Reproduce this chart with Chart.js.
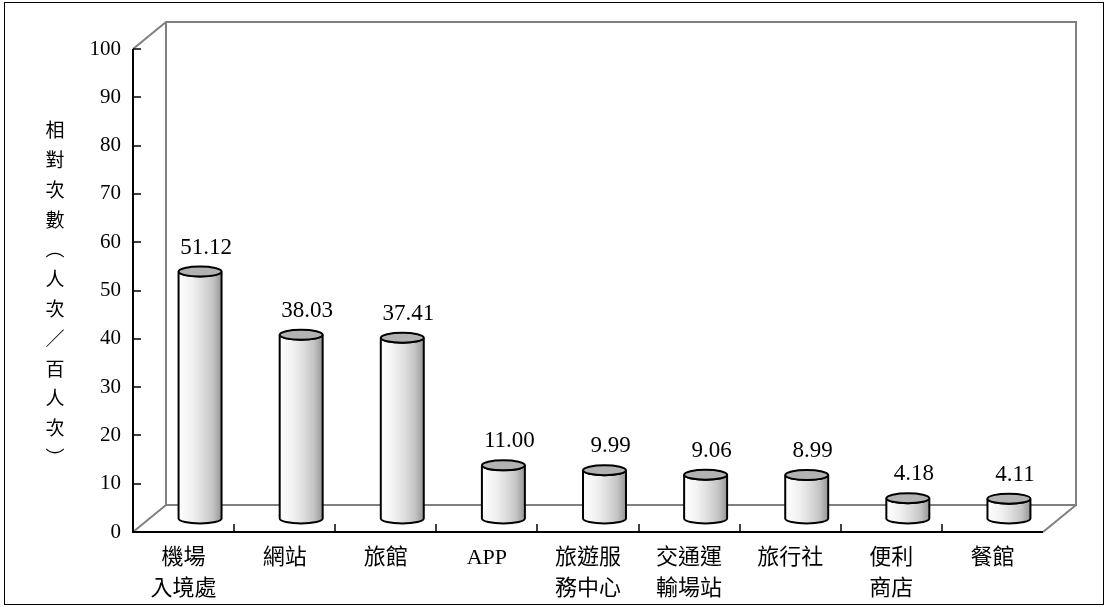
<!DOCTYPE html>
<html>
<head>
<meta charset="utf-8">
<script src="https://cdn.jsdelivr.net/npm/chart.js@4/dist/chart.umd.min.js"></script>
<style>
  html, body { margin: 0; padding: 0; background: #fff; }
  #wrap { width: 1108px; height: 607px; }
</style>
</head>
<body>
<div id="wrap"><canvas id="c" width="1108" height="607"></canvas></div>
<script>
// data
const categories = [
  ['機場', '入境處'], ['網站'], ['旅館'], ['APP'], ['旅遊服', '務中心'],
  ['交通運', '輸場站'], ['旅行社'], ['便利', '商店'], ['餐館'],
];
const values = [51.12, 38.03, 37.41, 11.00, 9.99, 9.06, 8.99, 4.18, 4.11];
const yTitle = ['相', '對', '次', '數', '︵', '人', '次', '／', '百', '人', '次', '︶'];

const serif = '"Liberation Serif", "Noto Sans CJK TC", serif';
const DX = 33, DY = 27; // depth of the 3D box

const box3d = {
  id: 'box3d',
  beforeDatasetsDraw(chart) {
    const { ctx, chartArea: a, scales: { x, y } } = chart;
    ctx.save();
    // outer frame
    ctx.strokeStyle = '#000';
    ctx.lineWidth = 1;
    ctx.strokeRect(4.5, 2.5, 1099, 602);

    // back wall + floor edges
    ctx.strokeStyle = '#808080';
    ctx.lineWidth = 2;
    ctx.beginPath();
    ctx.moveTo(a.left, a.top); ctx.lineTo(a.left + DX, a.top - DY);
    ctx.lineTo(a.right + DX, a.top - DY);
    ctx.lineTo(a.right + DX, a.bottom - DY);
    ctx.lineTo(a.left + DX, a.bottom - DY);
    ctx.lineTo(a.left + DX, a.top - DY);
    ctx.moveTo(a.left + DX, a.bottom - DY); ctx.lineTo(a.left, a.bottom);
    ctx.moveTo(a.right + DX, a.bottom - DY); ctx.lineTo(a.right, a.bottom);
    ctx.stroke();

    // front axes
    ctx.strokeStyle = '#000';
    ctx.beginPath();
    ctx.moveTo(a.left, a.top); ctx.lineTo(a.left, a.bottom); ctx.lineTo(a.right, a.bottom);
    ctx.stroke();
    ctx.lineWidth = 1.5;
    ctx.beginPath();
    y.ticks.forEach(t => {
      const py = Math.round(y.getPixelForValue(t.value));
      ctx.moveTo(a.left, py); ctx.lineTo(a.left + 8, py);
    });
    for (let i = 1; i < categories.length; i++) {
      const px = Math.round((x.getPixelForValue(i - 1) + x.getPixelForValue(i)) / 2);
      ctx.moveTo(px, a.bottom); ctx.lineTo(px, a.bottom - 8);
    }
    ctx.stroke();

    // vertical axis title
    ctx.fillStyle = '#000';
    ctx.font = '19px "Noto Sans CJK TC"';
    ctx.textAlign = 'center';
    ctx.textBaseline = 'middle';
    yTitle.forEach((ch, i) => ctx.fillText(ch, 55, 130 + i * 29.8));
    ctx.restore();
  },
  afterDatasetsDraw(chart) {
    const { ctx } = chart;
    const meta = chart.getDatasetMeta(0);
    ctx.save();
    meta.data.forEach((bar, i) => {
      const cx = bar.x + DX / 2;
      const top = bar.y - DY / 2;
      const bot = bar.base - DY / 2;
      const rx = bar.width / 2, ry = 5;

      const g = ctx.createLinearGradient(cx - rx, 0, cx + rx, 0);
      g.addColorStop(0, '#ffffff');
      g.addColorStop(0.3, '#f2f2f2');
      g.addColorStop(0.55, '#dedede');
      g.addColorStop(0.8, '#c4c4c4');
      g.addColorStop(1, '#969696');

      ctx.beginPath();
      ctx.moveTo(cx - rx, top);
      ctx.lineTo(cx - rx, bot);
      ctx.ellipse(cx, bot, rx, ry, 0, Math.PI, 0, true);
      ctx.lineTo(cx + rx, top);
      ctx.ellipse(cx, top, rx, ry, 0, 0, Math.PI, false);
      ctx.closePath();
      ctx.fillStyle = g;
      ctx.fill();
      ctx.strokeStyle = '#000';
      ctx.lineWidth = 2;
      ctx.stroke();

      ctx.beginPath();
      ctx.ellipse(cx, top, rx, ry, 0, 0, Math.PI * 2);
      ctx.fillStyle = '#b2b2b2';
      ctx.fill();
      ctx.stroke();

      ctx.fillStyle = '#000';
      ctx.font = '23px ' + serif;
      ctx.textAlign = 'center';
      ctx.textBaseline = 'alphabetic';
      ctx.fillText(values[i].toFixed(2), cx + 6, top - 18);
    });
    ctx.restore();
  },
};

new Chart(document.getElementById('c'), {
  type: 'bar',
  data: {
    labels: categories,
    datasets: [{
      data: values,
      backgroundColor: 'rgba(0,0,0,0)',
      borderWidth: 0,
      barPercentage: 0.425,
      categoryPercentage: 1,
    }],
  },
  options: {
    responsive: false,
    animation: false,
    layout: { padding: { top: 49, right: 65, left: 0, bottom: 0 } },
    plugins: { legend: { display: false }, tooltip: { enabled: false } },
    scales: {
      x: {
        grid: { display: false, drawTicks: false },
        border: { display: false },
        ticks: {
          color: '#000', padding: 11, maxRotation: 0, autoSkip: false,
          font: { family: serif, size: 22, lineHeight: 1.4 },
        },
        afterFit: s => { s.height = 75; },
      },
      y: {
        min: 0, max: 100,
        grid: { display: false, drawTicks: false },
        border: { display: false },
        ticks: {
          stepSize: 10, color: '#000', padding: 12,
          font: { family: serif, size: 21 },
        },
        afterFit: s => { s.width = 133; },
      },
    },
  },
  plugins: [box3d],
});
</script>
</body>
</html>
